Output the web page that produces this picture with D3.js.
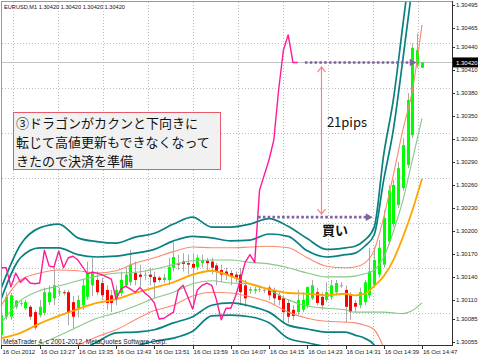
<!DOCTYPE html>
<html><head><meta charset="utf-8">
<script src="https://cdn.jsdelivr.net/npm/d3@7"></script>
<style>
html,body{margin:0;padding:0;background:#fff;}
svg{display:block;}
</style></head><body>
<svg id="c" width="478" height="357"></svg>
<script>
// ---------------- DATA ----------------
const symbolTitle = "EURUSD,M1  1.30420 1.30420 1.30420 1.30420";
const copyright = "MetaTrader 4, c 2001-2012, MetaQuotes Software Corp.";
const currentPrice = 1.30420;

const openP = [1.30064,1.30088,1.30088,1.30101,1.30106,1.30099,1.30101,1.30094,1.30090,1.30093,
1.30107,1.30112,1.30120,1.30120,1.30120,1.30107,1.30099,1.30103,1.30114,1.30129,
1.30136,1.30132,1.30123,1.30116,1.30110,1.30119,1.30129,1.30133,1.30145,1.30143,
1.30143,1.30143,1.30140,1.30139,1.30136,1.30136,1.30152,1.30158,1.30160,1.30158,
1.30157,1.30153,1.30158,1.30161,1.30160,1.30155,1.30149,1.30147,1.30145,1.30143,
1.30143,1.30129,1.30122,1.30122,1.30124,1.30123,1.30126,1.30122,1.30116,1.30112,
1.30106,1.30097,1.30094,1.30097,1.30103,1.30112,1.30120,1.30114,1.30110,1.30114,
1.30120,1.30129,1.30123,1.30116,1.30106,1.30103,1.30107,1.30116,1.30129,1.30143,
1.30156,1.30186,1.30209,1.30234,1.30256,1.30286,1.30325,1.30417,1.30413];
const highP = [1.30094,1.30120,1.30119,1.30110,1.30110,1.30110,1.30103,1.30097,1.30110,1.30126,
1.30129,1.30152,1.30126,1.30123,1.30123,1.30115,1.30116,1.30136,1.30160,1.30165,
1.30147,1.30139,1.30129,1.30123,1.30129,1.30147,1.30152,1.30175,1.30160,1.30156,
1.30149,1.30152,1.30147,1.30141,1.30144,1.30165,1.30185,1.30169,1.30171,1.30169,
1.30171,1.30169,1.30169,1.30165,1.30165,1.30158,1.30156,1.30152,1.30149,1.30147,
1.30152,1.30136,1.30127,1.30127,1.30127,1.30126,1.30129,1.30126,1.30120,1.30116,
1.30110,1.30103,1.30123,1.30120,1.30127,1.30136,1.30126,1.30120,1.30133,1.30136,
1.30136,1.30133,1.30129,1.30120,1.30110,1.30126,1.30136,1.30178,1.30179,1.30188,
1.30227,1.30260,1.30267,1.30290,1.30321,1.30380,1.30445,1.30458,1.30420];
const lowP = [1.30060,1.30084,1.30084,1.30098,1.30102,1.30097,1.30084,1.30071,1.30087,1.30090,
1.30103,1.30103,1.30115,1.30116,1.30077,1.30073,1.30087,1.30097,1.30110,1.30115,
1.30116,1.30110,1.30097,1.30094,1.30103,1.30115,1.30126,1.30129,1.30129,1.30126,
1.30136,1.30129,1.30112,1.30133,1.30132,1.30129,1.30147,1.30149,1.30147,1.30143,
1.30099,1.30149,1.30152,1.30149,1.30143,1.30129,1.30133,1.30136,1.30129,1.30133,
1.30103,1.30101,1.30118,1.30118,1.30120,1.30119,1.30110,1.30103,1.30103,1.30081,
1.30080,1.30084,1.30090,1.30094,1.30099,1.30110,1.30103,1.30097,1.30107,1.30110,
1.30116,1.30126,1.30081,1.30084,1.30094,1.30099,1.30103,1.30112,1.30126,1.30139,
1.30152,1.30182,1.30205,1.30230,1.30253,1.30282,1.30321,1.30413,1.30413];
const closeP = [1.30090,1.30114,1.30116,1.30109,1.30106,1.30107,1.30088,1.30074,1.30101,1.30120,
1.30120,1.30129,1.30121,1.30119,1.30094,1.30088,1.30110,1.30129,1.30145,1.30147,
1.30120,1.30116,1.30106,1.30106,1.30123,1.30136,1.30143,1.30156,1.30136,1.30140,
1.30143,1.30140,1.30133,1.30136,1.30139,1.30153,1.30166,1.30156,1.30157,1.30156,
1.30152,1.30165,1.30162,1.30158,1.30152,1.30147,1.30143,1.30143,1.30140,1.30139,
1.30120,1.30112,1.30124,1.30124,1.30124,1.30123,1.30116,1.30112,1.30110,1.30094,
1.30088,1.30089,1.30110,1.30110,1.30127,1.30129,1.30106,1.30103,1.30120,1.30129,
1.30132,1.30129,1.30101,1.30094,1.30101,1.30120,1.30133,1.30147,1.30162,1.30178,
1.30217,1.30253,1.30260,1.30282,1.30312,1.30371,1.30439,1.30436,1.30420];

// indicator lines, sampled at these bar indices
const bandIdx = [0,4,8,12,16,20,24,28,32,36,40,44,48,52,56,60,64,68,72,74,76,78,80,82,84,86,88];
const tealUpper2 = [1.30126,1.30182,1.30204,1.30209,1.30191,1.30186,1.30184,1.30192,1.30197,1.30209,1.30218,1.30205,1.30205,1.30209,1.30216,1.30206,1.30190,1.30176,1.30178,1.30180,1.30188,1.30205,1.30300,1.30371,1.30469,1.30567,1.30658];
const tealUpper1 = [1.30112,1.30165,1.30178,1.30178,1.30169,1.30166,1.30167,1.30171,1.30176,1.30187,1.30193,1.30191,1.30187,1.30188,1.30196,1.30193,1.30174,1.30166,1.30169,1.30171,1.30180,1.30195,1.30267,1.30332,1.30424,1.30521,1.30606];
const salmonUpper = [1.30103,1.30136,1.30145,1.30149,1.30148,1.30145,1.30148,1.30158,1.30165,1.30173,1.30179,1.30178,1.30178,1.30179,1.30180,1.30178,1.30165,1.30154,1.30152,1.30153,1.30158,1.30175,1.30218,1.30273,1.30332,1.30384,1.30469];
const greenUpper = [1.30080,1.30109,1.30122,1.30128,1.30135,1.30141,1.30145,1.30146,1.30150,1.30156,1.30161,1.30162,1.30162,1.30159,1.30157,1.30152,1.30145,1.30140,1.30140,1.30141,1.30144,1.30149,1.30166,1.30199,1.30240,1.30293,1.30347];
const orangeMA = [1.30060,1.30067,1.30079,1.30089,1.30098,1.30106,1.30111,1.30119,1.30126,1.30133,1.30143,1.30148,1.30141,1.30131,1.30124,1.30119,1.30118,1.30116,1.30118,1.30116,1.30118,1.30128,1.30141,1.30162,1.30192,1.30227,1.30268];
const greenLower = [1.30025,1.30038,1.30052,1.30063,1.30075,1.30086,1.30093,1.30102,1.30112,1.30120,1.30131,1.30135,1.30132,1.30131,1.30123,1.30110,1.30102,1.30099,1.30097,1.30094,1.30094,1.30094,1.30094,1.30093,1.30092,1.30096,1.30106];
const salmonLower = [1.29999,1.30019,1.30032,1.30042,1.30051,1.30062,1.30071,1.30084,1.30096,1.30103,1.30115,1.30120,1.30119,1.30114,1.30107,1.30094,1.30086,1.30082,1.30081,1.30080,1.30077,1.30071,1.30047,1.30005,1.29966,1.29927,1.29901];
const tealLower1 = [1.29953,1.29986,1.30012,1.30029,1.30042,1.30055,1.30067,1.30068,1.30071,1.30080,1.30088,1.30103,1.30106,1.30102,1.30094,1.30077,1.30072,1.30068,1.30068,1.30064,1.30060,1.30051,1.30005,1.29940,1.29875,1.29823,1.29770];
const tealLower2 = [1.29914,1.29940,1.29966,1.29986,1.30005,1.30025,1.30038,1.30049,1.30056,1.30060,1.30069,1.30089,1.30090,1.30088,1.30080,1.30060,1.30054,1.30049,1.30047,1.30045,1.30038,1.30029,1.29966,1.29888,1.29823,1.29744,1.29679];

// lagging (pink) line, one value per bar starting at bar 0
const pinkLine = [1.30152,1.30152,1.30127,1.30145,1.30133,1.30139,1.30132,1.30131,1.30132,1.30175,
1.30154,1.30153,1.30174,1.30152,1.30165,1.30167,1.30162,1.30153,1.30144,1.30146,
1.30145,1.30143,1.30140,1.30137,1.30111,1.30124,1.30128,1.30124,1.30120,1.30126,
1.30119,1.30114,1.30106,1.30085,1.30086,1.30090,1.30094,1.30123,1.30129,1.30114,
1.30098,1.30123,1.30129,1.30132,1.30129,1.30110,1.30084,1.30099,1.30099,1.30115,
1.30136,1.30159,1.30169,1.30159,1.30253,1.30273,1.30293,1.30319,1.30384,1.30436,
1.30456,1.30420,1.30420];

const priceTicks = [1.30495,1.30465,1.30440,1.30410,1.30380,1.30350,1.30320,1.30290,1.30260,1.30230,1.30200,1.30170,1.30140,1.30110,1.30085,1.30055];
const timeLabelIdx = [0,8,16,24,32,40,48,56,64,72,80,88];
const timeLabels = ["16 Oct 2012","16 Oct 13:27","16 Oct 13:35","16 Oct 13:43","16 Oct 13:51","16 Oct 13:59","16 Oct 14:07","16 Oct 14:15","16 Oct 14:23","16 Oct 14:31","16 Oct 14:39","16 Oct 14:47"];

const noteLines = ["③ドラゴンがカクンと下向きに","転じて高値更新もできなくなって","きたので決済を準備"];

// ---------------- DRAW ----------------
const W = 478, H = 357;
const plot = {left: 2, top: 2, right: 452, bottom: 345};
const x = d3.scaleLinear().domain([0, 88]).range([1.4, 422]);
const y = d3.scaleLinear().domain([1.30055, 1.30495]).range([342, 5]);
const svg = d3.select('#c');
const axisFont = "'Liberation Sans', Arial, sans-serif";
const jpFont = "'Noto Sans CJK JP', 'Noto Sans', sans-serif";

svg.append('rect').attr('width', W).attr('height', H).attr('fill', '#fff');
svg.append('defs').append('clipPath').attr('id', 'clip')
  .append('rect').attr('x', plot.left).attr('y', plot.top)
  .attr('width', plot.right - plot.left).attr('height', plot.bottom - plot.top);

// grid
const grid = svg.append('g').attr('stroke', '#bcbcbc').attr('stroke-width', 1).attr('stroke-dasharray', '1,2');
for (let gx = 13; gx < plot.right; gx += 45)
  grid.append('line').attr('x1', gx + 0.5).attr('x2', gx + 0.5).attr('y1', plot.top).attr('y2', plot.bottom);
for (let gy = 43; gy < plot.bottom; gy += 45)
  grid.append('line').attr('y1', gy + 0.5).attr('y2', gy + 0.5).attr('x1', plot.left).attr('x2', plot.right);

// current price line
svg.append('line').attr('x1', plot.left).attr('x2', plot.right)
  .attr('y1', Math.round(y(currentPrice)) + 0.5).attr('y2', Math.round(y(currentPrice)) + 0.5)
  .attr('stroke', '#c4c4c4').attr('stroke-width', 1);

// candles
const bars = openP.map((o, i) => ({i, o, h: highP[i], l: lowP[i], c: closeP[i]}));
const cg = svg.append('g').attr('clip-path', 'url(#clip)');
cg.selectAll('line.wick').data(bars).join('line').attr('class', 'wick')
  .attr('x1', d => Math.round(x(d.i)) + 0.5).attr('x2', d => Math.round(x(d.i)) + 0.5)
  .attr('y1', d => y(d.h)).attr('y2', d => y(d.l))
  .attr('stroke', '#a9a9a9').attr('stroke-width', 1);
cg.selectAll('rect.body').data(bars).join('rect').attr('class', 'body')
  .attr('x', d => Math.round(x(d.i)) - 1).attr('width', 3)
  .attr('y', d => y(Math.max(d.o, d.c)))
  .attr('height', d => Math.max(1, Math.abs(y(d.o) - y(d.c))))
  .attr('fill', d => d.c > d.o ? '#00ff00' : (d.c < d.o ? '#ff0000' : '#a9a9a9'));

// indicator lines
const bandLine = d3.line().x((d, k) => x(bandIdx[k])).y(d => y(d)).curve(d3.curveMonotoneX);
const series = [
  {v: tealUpper2, color: '#0a8080', w: 1.7},
  {v: tealUpper1, color: '#0a8080', w: 1.7},
  {v: tealLower1, color: '#0a8080', w: 1.7},
  {v: tealLower2, color: '#0a8080', w: 1.7},
  {v: salmonUpper, color: '#fa8a6e', w: 1.1},
  {v: salmonLower, color: '#fa8a6e', w: 1.1},
  {v: greenUpper, color: '#86c886', w: 1.1},
  {v: greenLower, color: '#86c886', w: 1.1},
  {v: orangeMA, color: '#ffa500', w: 1.8}
];
const lg = svg.append('g').attr('clip-path', 'url(#clip)').attr('fill', 'none');
lg.selectAll('path.band').data(series).join('path').attr('class', 'band')
  .attr('d', d => bandLine(d.v)).attr('stroke', d => d.color).attr('stroke-width', d => d.w)
  .attr('stroke-linejoin', 'round');
const pinkGen = d3.line().x((d, k) => x(k)).y(d => y(d));
lg.append('path').attr('d', pinkGen(pinkLine)).attr('stroke', '#ff1a96').attr('stroke-width', 1.4)
  .attr('stroke-linejoin', 'round');

// frame & axes
svg.append('line').attr('x1', 1.5).attr('x2', 1.5).attr('y1', 1).attr('y2', plot.bottom).attr('stroke', '#9a9a9a');
svg.append('line').attr('x1', 1).attr('x2', plot.right).attr('y1', 1.5).attr('y2', 1.5).attr('stroke', '#9a9a9a');
svg.append('line').attr('x1', plot.right + 0.5).attr('x2', plot.right + 0.5).attr('y1', 1).attr('y2', plot.bottom + 1)
  .attr('stroke', '#303030');
svg.append('line').attr('x1', 1).attr('x2', plot.right + 1).attr('y1', plot.bottom + 0.5).attr('y2', plot.bottom + 0.5)
  .attr('stroke', '#303030');

// right price axis
const ya = svg.append('g').attr('font-family', axisFont).attr('font-size', 6).attr('fill', '#202020');
ya.selectAll('line').data(priceTicks).join('line')
  .attr('x1', plot.right).attr('x2', plot.right + 3)
  .attr('y1', d => Math.round(y(d)) + 0.5).attr('y2', d => Math.round(y(d)) + 0.5)
  .attr('stroke', '#303030');
ya.selectAll('text').data(priceTicks).join('text')
  .attr('x', 456).attr('y', d => y(d) + 2.2).text(d => d.toFixed(5));
// current price marker
const cy = y(currentPrice);
svg.append('rect').attr('x', 453).attr('y', cy - 5).attr('width', 25).attr('height', 10).attr('fill', '#000');
svg.append('text').attr('x', 456).attr('y', cy + 2.2).attr('font-family', axisFont).attr('font-size', 6)
  .attr('fill', '#fff').text(currentPrice.toFixed(5));

// bottom time axis
const xa = svg.append('g').attr('font-family', axisFont).attr('font-size', 6).attr('fill', '#202020');
xa.selectAll('line').data(timeLabelIdx).join('line')
  .attr('x1', d => Math.round(x(d)) + 0.5).attr('x2', d => Math.round(x(d)) + 0.5)
  .attr('y1', plot.bottom).attr('y2', plot.bottom + 4).attr('stroke', '#303030');
xa.selectAll('text').data(timeLabelIdx).join('text')
  .attr('x', d => x(d) + 1).attr('y', 354).text((d, k) => timeLabels[k]);

// title + copyright
svg.append('text').attr('x', 4).attr('y', 9).attr('font-family', axisFont).attr('font-size', 6.2)
  .attr('fill', '#101030').attr('textLength', 121).attr('lengthAdjust', 'spacingAndGlyphs').text(symbolTitle);
svg.append('text').attr('x', 3).attr('y', 343.5).attr('font-family', axisFont).attr('font-size', 6.8)
  .attr('fill', '#202020').attr('textLength', 164).attr('lengthAdjust', 'spacingAndGlyphs').text(copyright);

// ---------------- ANNOTATIONS ----------------
const purple = '#8064a2';
function dottedArrow(i0, i1, price) {
  const yy = y(price), xs = x(i0), xe = x(i1);
  svg.append('line').attr('x1', xs).attr('x2', xe - 6).attr('y1', yy).attr('y2', yy)
    .attr('stroke', purple).attr('stroke-width', 2.6).attr('stroke-dasharray', '2.6,2.2');
  svg.append('path').attr('d', `M${xe},${yy} L${xe - 7},${yy - 3.8} L${xe - 7},${yy + 3.8} Z`).attr('fill', purple);
}
dottedArrow(63.5, 86.9, 1.30420);
dottedArrow(53.7, 77.7, 1.30218);

// vertical double arrow (21 pips)
const vx = Math.round(x(66.9)) + 0.5, vTop = y(1.30414), vBot = y(1.30222);
const salmonA = '#f88484';
svg.append('line').attr('x1', vx).attr('x2', vx).attr('y1', vTop).attr('y2', vBot)
  .attr('stroke', salmonA).attr('stroke-width', 1.2);
svg.append('path').attr('d', `M${vx - 4},${vTop + 5} L${vx},${vTop} L${vx + 4},${vTop + 5}`)
  .attr('fill', 'none').attr('stroke', salmonA).attr('stroke-width', 1.2);
svg.append('path').attr('d', `M${vx - 4},${vBot - 5} L${vx},${vBot} L${vx + 4},${vBot - 5}`)
  .attr('fill', 'none').attr('stroke', salmonA).attr('stroke-width', 1.2);

svg.append('text').attr('x', x(68.1)).attr('y', y(1.30336)).attr('font-family', jpFont)
  .attr('font-size', 13).attr('fill', '#111').text('21pips');
svg.append('text').attr('x', x(67.1)).attr('y', y(1.30195)).attr('font-family', jpFont)
  .attr('font-size', 13).attr('font-weight', 'bold').attr('fill', '#111').text('買い');

// note box
svg.append('rect').attr('x', 13.5).attr('y', 112.5).attr('width', 207).attr('height', 57)
  .attr('fill', '#f1f1f1').attr('stroke', '#e85a6a').attr('stroke-width', 1);
svg.append('g').attr('font-family', jpFont).attr('font-size', 13).attr('fill', '#111')
  .selectAll('text').data(noteLines).join('text')
  .attr('x', 16).attr('y', (d, k) => 128 + k * 19).text(d => d);
</script>
</body></html>
